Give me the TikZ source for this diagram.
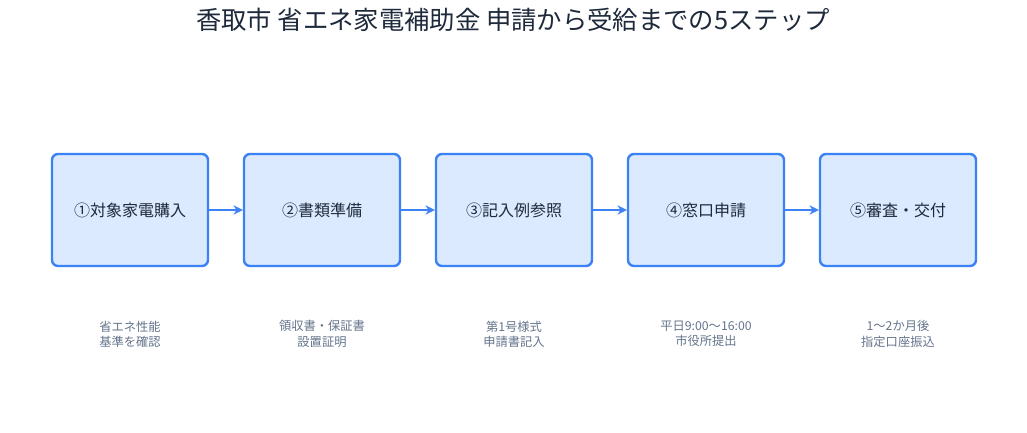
\documentclass[tikz,border=0pt]{standalone}
\usepackage{fontspec}
\setmainfont{Noto Sans CJK JP}
\usetikzlibrary{positioning,arrows.meta}
\definecolor{stepfill}{HTML}{DBEAFE}
\definecolor{stepline}{HTML}{3B82F6}
\definecolor{titletext}{HTML}{1E293B}
\definecolor{notetext}{HTML}{64748B}
\begin{document}
\begin{tikzpicture}
        [x=0.75pt, y=-0.75pt,
        stepbox/.style={rectangle, draw=stepline, fill=stepfill, line width=1.8pt,
            rounded corners=4.5pt, minimum width=117pt, minimum height=84pt,
            font=\fontsize{12}{14}\selectfont, text=titletext},
        link/.style={-{Stealth[length=7pt,width=7pt]}, stepline, line width=1.8pt},
        note/.style={font=\fontsize{9.2}{11.5}\selectfont, text=notetext, align=center},
        inner sep=0pt]

        \useasboundingbox (0,0) rectangle (1027,432);

        \node[font=\fontsize{19}{22}\selectfont, text=titletext] (title) at (513,20)
            {香取市 省エネ家電補助金 申請から受給までの5ステップ};

        \node[stepbox] (s1) at (130,210) {①対象家電購入};
        \node[stepbox] (s2) at (322,210) {②書類準備};
        \node[stepbox] (s3) at (514,210) {③記入例参照};
        \node[stepbox] (s4) at (706,210) {④窓口申請};
        \node[stepbox] (s5) at (898,210) {⑤審査・交付};

        \draw[link] (s1) -- (s2);
        \draw[link] (s2) -- (s3);
        \draw[link] (s3) -- (s4);
        \draw[link] (s4) -- (s5);

        % notes below each step
        \node[note] (n1) at (130,334) {省エネ性能\\基準を確認};
        \node[note] (n2) at (322,334) {領収書・保証書\\設置証明};
        \node[note] (n3) at (514,334) {第1号様式\\申請書記入};
        \node[note] (n4) at (706,334) {平日9:00〜16:00\\市役所提出};
        \node[note] (n5) at (898,334) {1〜2か月後\\指定口座振込};
    \end{tikzpicture}
\end{document}
